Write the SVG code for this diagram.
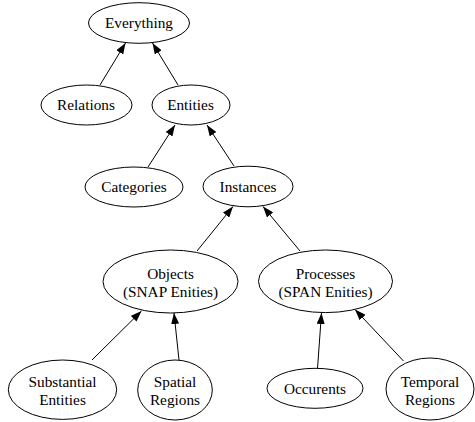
<svg xmlns="http://www.w3.org/2000/svg" width="475" height="422" viewBox="0 0 475 422">
<style>
.n ellipse{fill:#fff;stroke:#000;stroke-width:1}
.n text{font-family:"Liberation Serif","Times New Roman",serif;font-size:15.3px;fill:#000;text-anchor:middle}
.e line{stroke:#000;stroke-width:1;marker-end:url(#ah)}
</style>
<defs>
<marker id="ah" markerUnits="userSpaceOnUse" markerWidth="11" markerHeight="8" refX="11" refY="4" orient="auto">
<path d="M0,0 L11,4 L0,8 z" fill="#000"/>
</marker>
</defs>
<rect width="475" height="422" fill="#fff"/>
<g id="edges" class="e">
<line x1="100" y1="85" x2="125.5" y2="43"/>
<line x1="178" y1="85" x2="152.5" y2="43"/>
<line x1="148" y1="167" x2="175" y2="125"/>
<line x1="234" y1="166" x2="207" y2="125"/>
<line x1="197" y1="251" x2="233" y2="206.5"/>
<line x1="300" y1="251" x2="263" y2="206.5"/>
<line x1="92" y1="360" x2="141.5" y2="311"/>
<line x1="179" y1="360" x2="174" y2="313"/>
<line x1="317.5" y1="368.5" x2="321.5" y2="313"/>
<line x1="403.5" y1="361" x2="355" y2="309.5"/>
</g>
<g id="everything" class="n"><ellipse cx="139" cy="23" rx="50.5" ry="20.3"/><text x="139" y="28">Everything</text></g>
<g id="relations" class="n"><ellipse cx="86.5" cy="105" rx="45.5" ry="20"/><text x="86" y="110">Relations</text></g>
<g id="entities" class="n"><ellipse cx="191" cy="105" rx="39" ry="20"/><text x="190.5" y="110">Entities</text></g>
<g id="categories" class="n"><ellipse cx="134" cy="187" rx="49" ry="20"/><text x="134" y="192">Categories</text></g>
<g id="instances" class="n"><ellipse cx="248" cy="186.5" rx="45" ry="20.3"/><text x="248" y="191.5">Instances</text></g>
<g id="objects" class="n"><ellipse cx="170.5" cy="281.5" rx="67.5" ry="31.5"/><text x="170.5" y="279">Objects</text><text x="170.5" y="297">(SNAP Enities)</text></g>
<g id="processes" class="n"><ellipse cx="325.5" cy="281.3" rx="67" ry="31.3"/><text x="325.5" y="279">Processes</text><text x="325.5" y="297">(SPAN Enities)</text></g>
<g id="substantial" class="n"><ellipse cx="62.5" cy="389.7" rx="54.2" ry="29.7"/><text x="62.5" y="387">Substantial</text><text x="62.5" y="405">Entities</text></g>
<g id="spatial" class="n"><ellipse cx="175" cy="390" rx="37.3" ry="30"/><text x="175" y="387">Spatial</text><text x="175" y="405">Regions</text></g>
<g id="occurents" class="n"><ellipse cx="315" cy="388.3" rx="48" ry="20"/><text x="315" y="393.5">Occurents</text></g>
<g id="temporal" class="n"><ellipse cx="430" cy="389" rx="44" ry="31"/><text x="430" y="386.5">Temporal</text><text x="430" y="404.5">Regions</text></g>
</svg>
